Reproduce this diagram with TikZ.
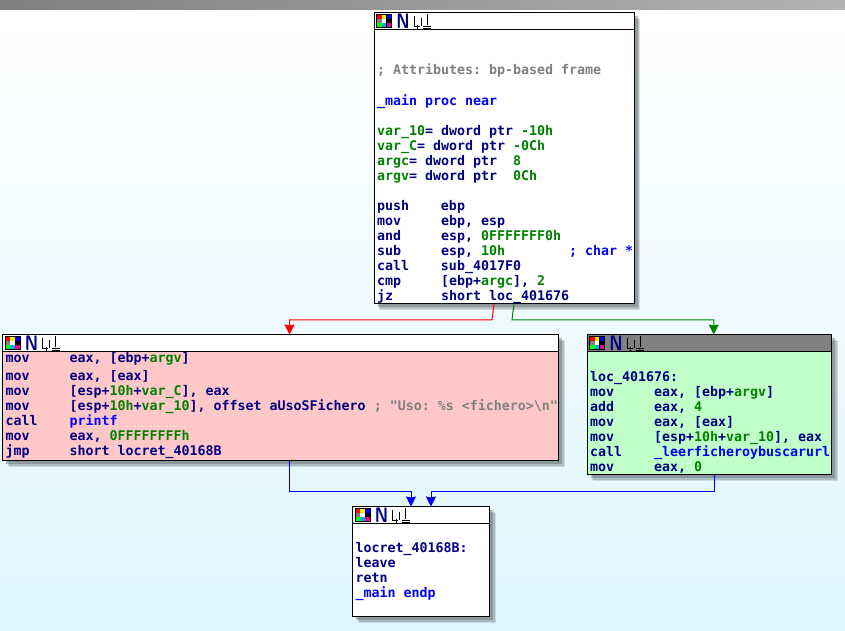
\documentclass[tikz,border=0pt]{standalone}
\usepackage{fontspec}
\setmonofont{DejaVu Sans Mono}
\usepackage{tikz}
\usetikzlibrary{arrows.meta}
\usetikzlibrary{shadows}
\usetikzlibrary{positioning}
\definecolor{nodepink}{RGB}{255,200,200}
\definecolor{nodegreen}{RGB}{192,255,200}
\definecolor{headgray}{RGB}{128,128,128}
\definecolor{codenavy}{RGB}{0,0,128}
\definecolor{codegreen}{RGB}{0,128,0}
\definecolor{codeblue}{RGB}{0,0,255}
\definecolor{edgegreen}{RGB}{0,128,0}
\definecolor{shadowgray}{RGB}{90,100,105}
\definecolor{skyend}{RGB}{222,245,255}
\newcommand{\ins}[2]{\mbox{\makebox[64pt][l]{#1}#2}}
\newcommand{\grn}[1]{\textcolor{codegreen}{#1}}
\newcommand{\blu}[1]{\textcolor{codeblue}{#1}}
\newcommand{\gry}[1]{\textcolor{headgray}{#1}}
\newcommand{\blank}{\strut}
\tikzset{
	every node/.style={font=\ttfamily\bfseries\fontsize{13.3}{15}\selectfont,text=codenavy},
	blockshadow/.style={
		drop shadow={shadow xshift=6pt,shadow yshift=-6pt,fill=shadowgray,opacity=.2},
		drop shadow={shadow xshift=5pt,shadow yshift=-5pt,fill=shadowgray,opacity=.25},
		drop shadow={shadow xshift=3.5pt,shadow yshift=-3.5pt,fill=shadowgray,opacity=.4}},
	blockhead/.style={rectangle,draw=black,fill=white,line width=1pt,outer sep=0pt,
		minimum width=#1,minimum height=17pt,blockshadow},
	blockbody/.style={rectangle,draw=black,fill=white,line width=1pt,outer sep=0pt,
		minimum width=#1,text width=#1-6pt,inner xsep=3pt,inner ysep=0pt,align=left,blockshadow,
		execute at begin node={\spaceskip=0pt\xspaceskip=0pt\vspace*{3pt}}},
	flow/.style={-{Stealth[length=10pt,width=10pt,inset=1pt]},line width=1pt},
	titleicons/.pic={
		\fill[black] (0,-7) rectangle (16,7);
		\foreach \col [count=\i from 0] in {red,yellow,blue,gray,white,black,green,cyan,magenta}{
			\pgfmathtruncatemacro{\cx}{mod(\i,3)}
			\pgfmathtruncatemacro{\cy}{div(\i,3)}
			\fill[\col] (1+4.8*\cx,-6+4.2*\cy) rectangle ++(4.5,3.8);
		}
		\node[font=\sffamily\bfseries\fontsize{21}{21}\selectfont,inner sep=0pt] (-letter) at (27,0) {\scalebox{.8}[1]{N}};
		\draw[black,line width=1pt] (38,-5) -- (38,5) -- (42,5);
		\draw[black,line width=.8pt] (39.5,5.5) -- (43.5,5.5) (41.5,3.5) -- (41.5,7.5);
		\draw[black,line width=1pt] (45,-3) -- (45,5);
		\draw[black,line width=1pt] (51,-7) -- (51,4);
		\draw[black,line width=1pt] (47,5) -- (55,5) (47,7) -- (55,7);
	}
}

\begin{document}
\begin{tikzpicture}[x=1pt,y=-1pt]
	\useasboundingbox (0,0) rectangle (845,630);
	\shade[top color=white,bottom color=skyend] (0,9) rectangle (845,630);
	\shade[left color=black!50,right color=black!30] (0,0) rectangle (845,9);

	\node[blockhead=260pt,anchor=north west] (entryhead) at (374,12.5) {};
	\pic (entryicons) at ([xshift=2pt]entryhead.west) {titleicons};
	\node[blockbody=260pt,minimum height=273pt,below=0pt of entryhead] (entry) {%
		\blank\\
		\blank\\
		\gry{; Attributes: bp-based frame}\\
		\blank\\
		\blu{\_main proc near}\\
		\blank\\
		\grn{var\_10}= dword ptr \grn{-10h}\\
		\grn{var\_C}= dword ptr \grn{-0Ch}\\
		\grn{argc}= dword ptr~~\grn{8}\\
		\grn{argv}= dword ptr~~\grn{0Ch}\\
		\blank\\
		\ins{push}{ebp}\\
		\ins{mov}{ebp, esp}\\
		\ins{and}{esp, \grn{0FFFFFFF0h}}\\
		\ins{sub}{esp, \grn{10h}\hspace{64pt}\blu{; char *}}\\
		\ins{call}{sub\_4017F0}\\
		\ins{cmp}{{[}ebp+\grn{argc}], \grn{2}}\\
		\ins{jz}{short loc\_401676}};

	\node[blockhead=556pt,anchor=north west] (usagehead) at (2.5,334.5) {};
	\pic (usageicons) at ([xshift=2pt]usagehead.west) {titleicons};
	\node[blockbody=556pt,fill=nodepink,minimum height=109pt,below=0pt of usagehead] (usage) {%
		\ins{mov}{eax, [ebp+\grn{argv}]}\\
		\ins{mov}{eax, [eax]}\\
		\ins{mov}{[esp+\grn{10h}+\grn{var\_C}], eax}\\
		\ins{mov}{[esp+\grn{10h}+\grn{var\_10}], offset aUsoSFichero \gry{; "Uso: \%s <fichero>\textbackslash n"}}\\
		\ins{call}{\blu{printf}}\\
		\ins{mov}{eax, \grn{0FFFFFFFFh}}\\
		\ins{jmp}{short locret\_40168B}};

	\node[blockhead=244.5pt,fill=headgray,anchor=north west] (readhead) at (587,334.5) {};
	\pic (readicons) at ([xshift=2pt]readhead.west) {titleicons};
	\node[blockbody=244.5pt,fill=nodegreen,minimum height=123pt,below=0pt of readhead] (read) {%
		\blank\\
		loc\_401676:\\
		\ins{mov}{eax, [ebp+\grn{argv}]}\\
		\ins{add}{eax, \grn{4}}\\
		\ins{mov}{eax, [eax]}\\
		\ins{mov}{[esp+\grn{10h}+\grn{var\_10}], eax}\\
		\ins{call}{\blu{\_leerficheroybuscarurl}}\\
		\ins{mov}{eax, \grn{0}}};

	\node[blockhead=137pt,anchor=north west] (exithead) at (352.5,506.5) {};
	\pic (exiticons) at ([xshift=2pt]exithead.west) {titleicons};
	\node[blockbody=137pt,minimum height=93pt,below=0pt of exithead] (exit) {%
		\blank\\
		locret\_40168B:\\
		leave\\
		retn\\
		\blu{\_main endp}\\
		\blank};

	\draw[flow,red] ([xshift=-10pt]entry.south) -- ++(-2,16) -| ([xshift=9pt]usagehead.north);
	\draw[flow,edgegreen] ([xshift=10pt]entry.south) -- ++(-2,16) -| ([xshift=4.5pt]readhead.north);
	\draw[flow,blue] ([xshift=9pt]usage.south) |- (411,491) -- ([xshift=-10pt]exithead.north);
	\draw[flow,blue] ([xshift=5pt]read.south) |- (431,491) -- ([xshift=10pt]exithead.north);
\end{tikzpicture}
\end{document}
